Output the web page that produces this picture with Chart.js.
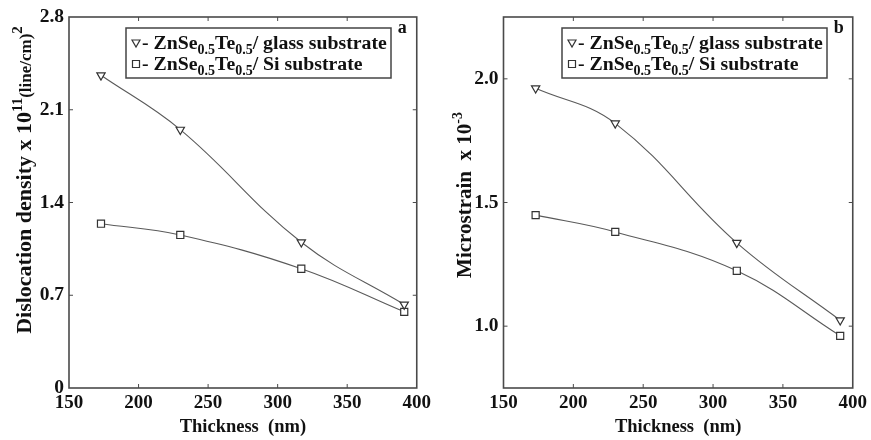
<!DOCTYPE html>
<html>
<head>
<meta charset="utf-8">
<script src="https://cdn.jsdelivr.net/npm/chart.js@4/dist/chart.umd.min.js"></script>
<style>
  html, body { margin: 0; padding: 0; background: #fff; }
  #wrap { position: relative; width: 871px; height: 440px; }
  .panel { position: absolute; top: 0; }
</style>
</head>
<body>
<div id="wrap">
  <div class="panel" style="left:0px"><canvas id="ca" width="435" height="440"></canvas></div>
  <div class="panel" style="left:435px"><canvas id="cb" width="436" height="440"></canvas></div>
</div>
<script>
// ---- data ----
const thickness = [173, 230, 317, 391];
const densityGlass = [2.36, 1.95, 1.10, 0.63];
const densitySi = [1.24, 1.155, 0.90, 0.575];
const strainGlass = [1.962, 1.82, 1.337, 1.024];
const strainSi = [1.449, 1.381, 1.224, 0.961];
const xTicks = [150, 200, 250, 300, 350, 400];
const densityTicks = [0, 0.7, 1.4, 2.1, 2.8];
const strainTicks = [1.0, 1.5, 2.0];
// text pieces: [text, kind] kind 0 = normal, 1 = subscript, 2 = superscript, 3 = small
const seriesNames = [
  [["- ZnSe", 0], ["0.5", 1], ["Te", 0], ["0.5", 1], ["/ glass substrate", 0]],
  [["- ZnSe", 0], ["0.5", 1], ["Te", 0], ["0.5", 1], ["/ Si substrate", 0]]
];
const densityTitle = [["Dislocation density x 10", 0], ["11", 2], ["(line/cm)", 3], ["2", 2]];
const strainTitle = [["Microstrain  x 10", 0], ["-3", 2]];

const SERIF = '"Liberation Serif", "DejaVu Serif", serif';
const LINE = '#5a5a5a';
const AXIS = '#4a4a4a';

function pts(xs, ys) { return xs.map((x, i) => ({ x: x, y: ys[i] })); }

function drawMarker(ctx, type, x, y) {
  ctx.save();
  ctx.strokeStyle = '#333';
  ctx.fillStyle = '#fff';
  ctx.lineWidth = 1.2;
  ctx.beginPath();
  if (type === 'tri') {
    ctx.moveTo(x - 4, y - 3);
    ctx.lineTo(x + 4, y - 3);
    ctx.lineTo(x, y + 4);
    ctx.closePath();
  } else {
    ctx.rect(x - 3.5, y - 3.5, 7, 7);
  }
  ctx.fill();
  ctx.stroke();
  ctx.restore();
}

function richFont(kind, base) {
  const sizes = { 0: base, 1: Math.round(base * 0.72), 2: Math.round(base * 0.68), 3: Math.round(base * 0.78) };
  return 'bold ' + sizes[kind] + 'px ' + SERIF;
}
function richOffset(kind, base) {
  if (kind === 1) return base * 0.25;
  if (kind === 2) return -base * 0.42;
  return 0;
}
function richWidth(ctx, segs, base) {
  let w = 0;
  for (const [t, k] of segs) { ctx.font = richFont(k, base); w += ctx.measureText(t).width; }
  return w;
}
function drawRich(ctx, segs, x, y, base) {
  let cx = x;
  for (const [t, k] of segs) {
    ctx.font = richFont(k, base);
    ctx.fillText(t, cx, y + richOffset(k, base));
    cx += ctx.measureText(t).width;
  }
  return cx;
}

function framePlugin(o) {
  return {
    id: 'frame' + o.letter,
    afterDraw(chart) {
      const ctx = chart.ctx;
      const a = chart.chartArea;
      const xs = chart.scales.x, ys = chart.scales.y;
      ctx.save();
      // box
      ctx.strokeStyle = AXIS;
      ctx.lineWidth = 1.6;
      ctx.strokeRect(a.left, a.top, a.right - a.left, a.bottom - a.top);
      // inward ticks
      ctx.lineWidth = 1;
      ctx.beginPath();
      xs.ticks.forEach(t => {
        const px = xs.getPixelForValue(t.value);
        if (Math.abs(px - a.left) < 2 || Math.abs(px - a.right) < 2) return;
        ctx.moveTo(px, a.bottom); ctx.lineTo(px, a.bottom - 4);
        ctx.moveTo(px, a.top); ctx.lineTo(px, a.top + 4);
      });
      ys.ticks.forEach(t => {
        const py = ys.getPixelForValue(t.value);
        if (Math.abs(py - a.top) < 2 || Math.abs(py - a.bottom) < 2) return;
        ctx.moveTo(a.left, py); ctx.lineTo(a.left + 4, py);
        ctx.moveTo(a.right, py); ctx.lineTo(a.right - 4, py);
      });
      ctx.stroke();
      // y-axis title (with superscripts)
      ctx.fillStyle = '#111';
      ctx.textBaseline = 'alphabetic';
      ctx.textAlign = 'left';
      ctx.save();
      ctx.translate(o.titleX, o.titleY);
      ctx.rotate(-Math.PI / 2);
      const tw = richWidth(ctx, o.yTitle, o.titleSize);
      drawRich(ctx, o.yTitle, -tw / 2, 6, o.titleSize);
      ctx.restore();
      // legend box
      const bx = a.left + o.legendDx, by = a.top + 11, bw = 265, bh = 50;
      ctx.fillStyle = '#fff';
      ctx.fillRect(bx, by, bw, bh);
      ctx.strokeStyle = '#444';
      ctx.lineWidth = 1.5;
      ctx.strokeRect(bx, by, bw, bh);
      ctx.fillStyle = '#111';
      drawMarker(ctx, 'tri', bx + 10, by + 15);
      drawRich(ctx, seriesNames[0], bx + 16, by + 21, 19.8);
      drawMarker(ctx, 'sq', bx + 10, by + 36);
      drawRich(ctx, seriesNames[1], bx + 16, by + 42, 19.8);
      // panel letter
      ctx.font = 'bold 18px ' + SERIF;
      ctx.fillText(o.letter, a.right - 19, a.top + 16);
      ctx.restore();
    }
  };
}

function makeChart(id, opts) {
  const ds = (data, style) => ({
    data: data,
    borderColor: LINE,
    borderWidth: 1.1,
    pointStyle: style,
    rotation: style === 'triangle' ? 180 : 0,
    pointRadius: style === 'triangle' ? 4.8 : 5,
    pointBorderWidth: 1.2,
    pointBorderColor: '#333',
    pointBackgroundColor: '#fff',
    tension: 0.4,
    fill: false
  });
  return new Chart(document.getElementById(id), {
    type: 'line',
    data: {
      datasets: [
        ds(pts(thickness, opts.glass), 'triangle'),
        ds(pts(thickness, opts.si), 'rect')
      ]
    },
    options: {
      responsive: false,
      animation: false,
      layout: { padding: { left: opts.padLeft, right: opts.padRight, top: 17, bottom: 2 } },
      plugins: { legend: { display: false }, tooltip: { enabled: false } },
      scales: {
        x: {
          type: 'linear', min: 150, max: 400,
          afterBuildTicks: s => { s.ticks = xTicks.map(v => ({ value: v })); },
          afterFit: s => { s.height = 50; },
          grid: { display: false, drawTicks: false },
          border: { display: false },
          ticks: { color: '#111', padding: 4, maxRotation: 0, autoSkip: false,
                   font: { family: SERIF, size: 19, weight: 'bold' },
                   callback: v => String(v) },
          title: { display: true, text: 'Thickness  (nm)', color: '#111', padding: 0,
                   font: { family: SERIF, size: 18.5, weight: 'bold' } }
        },
        y: {
          type: 'linear', min: opts.ymin, max: opts.ymax,
          afterBuildTicks: s => { s.ticks = opts.yTicks.map(v => ({ value: v })); },
          afterFit: s => { s.width = opts.yWidth; },
          grid: { display: false, drawTicks: false },
          border: { display: false },
          ticks: { color: '#111', padding: 5, autoSkip: false,
                   font: { family: SERIF, size: 19.5, weight: 'bold' },
                   callback: opts.yFmt },
          title: { display: false }
        }
      }
    },
    plugins: [framePlugin(opts)]
  });
}

makeChart('ca', {
  glass: densityGlass, si: densitySi,
  ymin: 0, ymax: 2.8, yTicks: densityTicks,
  yFmt: v => (v === 0 ? '0' : v.toFixed(1)),
  yTitle: densityTitle, titleX: 25, titleY: 180, titleSize: 22,
  padLeft: 0, yWidth: 69, padRight: 14.3, letter: 'a', legendDx: 57
});

makeChart('cb', {
  glass: strainGlass, si: strainSi,
  ymin: 0.75, ymax: 2.25, yTicks: strainTicks,
  yFmt: v => v.toFixed(1),
  yTitle: strainTitle, titleX: 30, titleY: 195, titleSize: 21,
  padLeft: 0, yWidth: 68.5, padRight: 16.7, letter: 'b', legendDx: 58.5
});
</script>
</body>
</html>
